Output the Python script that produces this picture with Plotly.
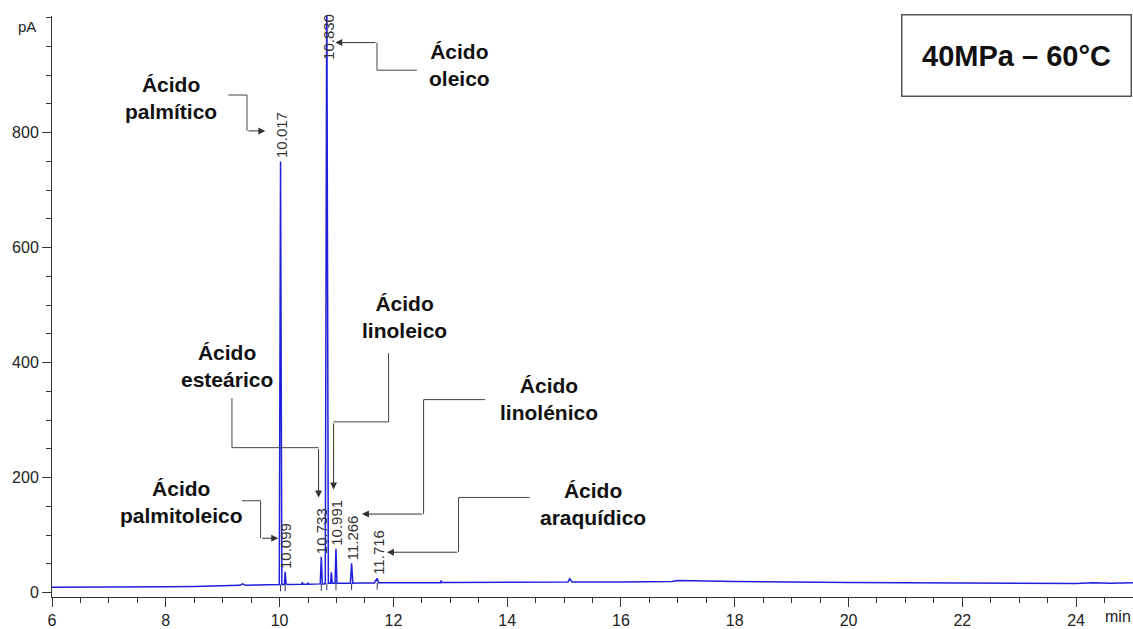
import plotly.graph_objects as go

# ---- data ----
time_min = [6.0, 6.5, 7.0, 7.5, 8.0, 8.5, 9.0, 9.3, 9.35, 9.4, 9.6, 9.9,
            9.995, 10.017, 10.04, 10.07, 10.085, 10.099, 10.115, 10.14, 10.3,
            10.39, 10.40, 10.41, 10.49, 10.50, 10.51, 10.70, 10.715, 10.733, 10.752,
            10.79, 10.803, 10.830, 10.857, 10.88, 10.897, 10.910, 10.925, 10.96,
            10.975, 10.991, 11.008, 11.05, 11.245, 11.266, 11.287, 11.4, 11.67,
            11.69, 11.70, 11.716, 11.74, 11.8, 12.0, 12.83, 12.84, 12.85, 13.0,
            14.0, 15.0, 15.07, 15.10, 15.14, 16.0, 16.9, 17.0, 17.5, 18.0, 20.0,
            22.0, 23.5, 24.0, 24.3, 24.6, 25.0]
signal_pA = [9, 9, 9.5, 9.5, 10, 10.5, 11.5, 12.5, 15, 12.5, 13, 13.5,
             14, 750, 14, 14, 14, 36, 15, 14, 14.5,
             14.5, 18, 14.5, 14.5, 17, 14.5, 15, 15, 62, 15,
             15, 16, 1080, 16, 16, 16, 35, 16, 16,
             16, 76, 16, 16, 16, 51, 16, 16.5, 16.5,
             22, 20, 25, 17, 17, 17, 17, 21, 17.5, 17.5,
             18.5, 18.5, 18.5, 24, 18.5, 18.5, 19, 21, 19.5, 19, 17.5,
             17, 16.5, 15.5, 17, 16, 17]

peak_rt = [10.017, 10.099, 10.733, 10.830, 10.991, 11.266, 11.716]
peak_label = ["10.017", "10.099", "10.733", "10.830", "10.991", "11.266", "11.716"]
peak_label_y = [750, 36, 62, 921, 76, 51, 25]
peak_base = [14, 14, 15, 16, 16, 16, 17]

acid_names = ["palmítico", "oleico", "esteárico", "linoleico", "linolénico",
              "palmitoleico", "araquídico"]
acid_label_x = [8.10, 13.16, 9.07, 12.19, 14.73, 8.27, 15.50]
acid_label_y = [860, 917, 394, 480, 336, 157, 154]

# leader lines: list of (x, y) vertices, last vertex is the arrow tip
leaders = [
    [(9.098, 865.5), (9.427, 865.5), (9.427, 803.1), (9.749, 803.1)],
    [(12.415, 908.7), (11.712, 908.7), (11.712, 956.7), (10.979, 956.7)],
    [(9.163, 338.5), (9.163, 252.0), (10.685, 252.0), (10.685, 165.4)],
    [(11.916, 416.5), (11.916, 296.9), (10.949, 296.9), (10.949, 179.2)],
    [(13.615, 335.6), (12.531, 335.6), (12.531, 136.5), (11.448, 136.5)],
    [(14.394, 165.4), (13.146, 165.4), (13.146, 70.1), (11.887, 70.1)],
    [(9.339, 159.7), (9.666, 159.7), (9.666, 94.4), (9.977, 94.4)],
]

box_text = "40MPa – 60°C"

FONT = "Liberation Sans, Arial, Helvetica, sans-serif"

fig = go.Figure()

fig.add_trace(go.Scatter(x=time_min, y=signal_pA, mode="lines",
                         line=dict(color="#2020dc", width=1.5),
                         hoverinfo="skip", showlegend=False))

# retention-time tick marks below the baseline
mx, my = [], []
for rt, b in zip(peak_rt, peak_base):
    mx += [rt, rt, None]
    my += [b, b - 12, None]
fig.add_trace(go.Scatter(x=mx, y=my, mode="lines",
                         line=dict(color="#333355", width=1),
                         hoverinfo="skip", showlegend=False))

# leader lines (all but the last segment)
for path in leaders:
    xs = [p[0] for p in path[:-1]]
    ys = [p[1] for p in path[:-1]]
    fig.add_trace(go.Scatter(x=xs, y=ys, mode="lines",
                             line=dict(color="#444444", width=1),
                             hoverinfo="skip", showlegend=False))

ann = []
for path in leaders:
    (tx, ty) = path[-1]
    (sx, sy) = path[-2]
    ann.append(dict(x=tx, y=ty, ax=sx, ay=sy, xref="x", yref="y",
                    axref="x", ayref="y", text="", showarrow=True,
                    arrowhead=2, arrowsize=1.4, arrowwidth=1,
                    arrowcolor="#333333", standoff=0))

for rt, lab, ly in zip(peak_rt, peak_label, peak_label_y):
    ann.append(dict(x=rt, y=ly, xref="x", yref="y", text=lab, textangle=-90,
                    showarrow=False, xanchor="center", yanchor="bottom",
                    xshift=1, yshift=1,
                    font=dict(family=FONT, size=15, color="#333333")))

for name, lx, ly in zip(acid_names, acid_label_x, acid_label_y):
    ann.append(dict(x=lx, y=ly, xref="x", yref="y",
                    text="<b>Ácido</b><br><b>" + name + "</b>",
                    showarrow=False, xanchor="center", yanchor="middle",
                    align="center",
                    font=dict(family=FONT, size=21, color="#111111")))

ann.append(dict(x=0.8918, y=0.932, xref="paper", yref="paper",
                text="<b>" + box_text + "</b>", showarrow=False,
                xanchor="center", yanchor="middle",
                width=226, height=78, borderpad=1,
                bordercolor="#555555", borderwidth=1.5, bgcolor="white",
                font=dict(family=FONT, size=29, color="#111111")))

ann.append(dict(x=0, y=1, xref="paper", yref="paper", text="pA",
                showarrow=False, xanchor="center", yanchor="middle",
                xshift=-25, yshift=-10,
                font=dict(family=FONT, size=15, color="#222222")))
ann.append(dict(x=0.986, y=0, xref="paper", yref="paper", text="min",
                showarrow=False, xanchor="center", yanchor="middle",
                yshift=-19,
                font=dict(family=FONT, size=16, color="#222222")))

fig.update_layout(
    width=1133, height=629,
    margin=dict(l=52, r=0, t=16, b=29, pad=0),
    paper_bgcolor="white", plot_bgcolor="white",
    font=dict(family=FONT, size=16, color="#222222"),
    annotations=ann,
    xaxis=dict(range=[6, 25], tickvals=[6, 8, 10, 12, 14, 16, 18, 20, 22, 24],
               showline=True, linecolor="#333333", linewidth=1,
               ticks="outside", ticklen=9, tickcolor="#333333", tickwidth=1,
               showgrid=False, zeroline=False,
               tickfont=dict(family=FONT, size=16, color="#222222"),
               minor=dict(tickmode="linear", tick0=6, dtick=0.5, ticks="outside",
                          ticklen=5, tickcolor="#333333", showgrid=False)),
    yaxis=dict(range=[-7.8, 1003], tickvals=[0, 200, 400, 600, 800],
               showline=True, linecolor="#333333", linewidth=1,
               ticks="outside", ticklen=9, tickcolor="#333333", tickwidth=1,
               showgrid=False, zeroline=False,
               tickfont=dict(family=FONT, size=16, color="#222222"),
               minor=dict(tickmode="linear", tick0=0, dtick=50, ticks="outside",
                          ticklen=5, tickcolor="#333333", showgrid=False)),
)

fig.write_html("out.html")
